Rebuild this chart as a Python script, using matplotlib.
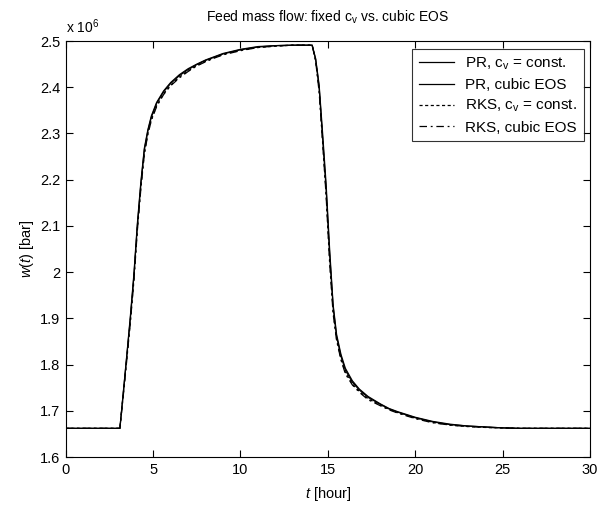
import matplotlib
matplotlib.use("Agg")
import matplotlib.pyplot as plt
from matplotlib.ticker import FuncFormatter, MultipleLocator

plt.rcParams['font.family'] = ['Liberation Sans', 'DejaVu Sans']
plt.rcParams['mathtext.fontset'] = 'custom'
plt.rcParams['mathtext.rm'] = 'Liberation Sans'
plt.rcParams['mathtext.it'] = 'Liberation Sans:italic'

# time [hour]
t_hour = [0, 3.1, 3.3, 3.5, 3.7, 3.9, 4.1, 4.3, 4.5, 4.7, 4.9, 5.2, 5.6, 6.0,
          6.5, 7.0, 7.5, 8.0, 8.5, 9.0, 10.0, 11.0, 12.0, 13.0, 14.1, 14.3,
          14.5, 14.7, 14.9, 15.1, 15.3, 15.5, 15.75, 16.0, 16.4, 16.8, 17.3,
          18.0, 18.5, 19.0, 20.0, 21.0, 22.0, 23.0, 24.0, 25.0, 26.0, 30.0]

# w(t) in units of 10^6
pr_cv_const = [1.662, 1.662, 1.74, 1.82, 1.90, 1.99, 2.10, 2.19, 2.265, 2.305,
               2.335, 2.365, 2.39, 2.408, 2.425, 2.438, 2.449, 2.458, 2.465,
               2.472, 2.481, 2.487, 2.490, 2.491, 2.491, 2.46, 2.40, 2.29,
               2.18, 2.04, 1.925, 1.86, 1.818, 1.788, 1.762, 1.745, 1.729,
               1.714, 1.704, 1.697, 1.685, 1.676, 1.670, 1.667, 1.665, 1.663,
               1.662, 1.662]
pr_cubic = [1.662, 1.662, 1.742, 1.822, 1.905, 1.995, 2.105, 2.195, 2.268,
            2.308, 2.338, 2.367, 2.392, 2.410, 2.427, 2.440, 2.450, 2.459,
            2.466, 2.473, 2.482, 2.488, 2.490, 2.491, 2.491, 2.462, 2.405,
            2.30, 2.19, 2.05, 1.93, 1.865, 1.822, 1.792, 1.765, 1.747, 1.731,
            1.715, 1.705, 1.698, 1.686, 1.677, 1.671, 1.667, 1.665, 1.663,
            1.662, 1.662]
rks_cv_const = [1.662, 1.662, 1.738, 1.815, 1.895, 1.985, 2.095, 2.185,
                2.258, 2.300, 2.330, 2.360, 2.386, 2.404, 2.422, 2.435, 2.447,
                2.456, 2.464, 2.471, 2.480, 2.486, 2.489, 2.491, 2.491, 2.458,
                2.395, 2.285, 2.17, 2.03, 1.915, 1.855, 1.812, 1.783, 1.758,
                1.742, 1.726, 1.712, 1.703, 1.696, 1.684, 1.675, 1.669, 1.666,
                1.664, 1.663, 1.662, 1.662]
rks_cubic = [1.662, 1.662, 1.735, 1.812, 1.892, 1.980, 2.090, 2.180, 2.255,
             2.298, 2.328, 2.358, 2.384, 2.403, 2.420, 2.434, 2.446, 2.455,
             2.463, 2.470, 2.479, 2.486, 2.489, 2.491, 2.491, 2.457, 2.39,
             2.28, 2.165, 2.02, 1.91, 1.852, 1.81, 1.780, 1.756, 1.740, 1.724,
             1.711, 1.702, 1.695, 1.683, 1.674, 1.669, 1.666, 1.664, 1.663,
             1.662, 1.662]

labels = ['PR, c$_\\mathrm{v}$ = const.', 'PR, cubic EOS',
          'RKS, c$_\\mathrm{v}$ = const.', 'RKS, cubic EOS']

fig = plt.figure(figsize=(5.99, 5.07), dpi=100)
ax = fig.add_axes([0.1097, 0.0986, 0.8753, 0.8205])

ax.plot(t_hour, pr_cv_const, color='black', lw=0.9, ls='-', label=labels[0])
ax.plot(t_hour, pr_cubic, color='black', lw=0.9, ls='-', label=labels[1])
ax.plot(t_hour, rks_cv_const, color='black', lw=0.9, ls=(0, (2.5, 2)), label=labels[2])
ax.plot(t_hour, rks_cubic, color='black', lw=0.9, ls=(0, (6, 3, 1.5, 3)), label=labels[3])

ax.set_xlim(0, 30)
ax.set_ylim(1.6, 2.5)
ax.xaxis.set_major_locator(MultipleLocator(5))
ax.yaxis.set_major_locator(MultipleLocator(0.1))
ax.yaxis.set_major_formatter(FuncFormatter(lambda v, p: '%g' % round(v, 2)))
ax.tick_params(direction='in', top=True, right=True, length=5, width=0.8,
               labelsize=10.5, colors='black', pad=4)
for s in ax.spines.values():
    s.set_linewidth(0.8)

ax.set_title('Feed mass flow: fixed c$_\\mathrm{v}$ vs. cubic EOS', fontsize=10, pad=14)
ax.set_xlabel('$t$ [hour]', fontsize=10.5, labelpad=6)
ax.set_ylabel('$w$($t$) [bar]', fontsize=10.5, labelpad=3)
ax.text(0.0, 1.012, 'x 10$^6$', transform=ax.transAxes, fontsize=10,
        ha='left', va='bottom')

leg = ax.legend(loc='upper right', bbox_to_anchor=(0.988, 0.982), fontsize=11,
                frameon=True, fancybox=False, edgecolor='black',
                handlelength=2.3, borderpad=0.45, labelspacing=0.4,
                handletextpad=0.7, borderaxespad=0.0)
leg.get_frame().set_linewidth(0.8)

fig.savefig('out.png', dpi=100)
